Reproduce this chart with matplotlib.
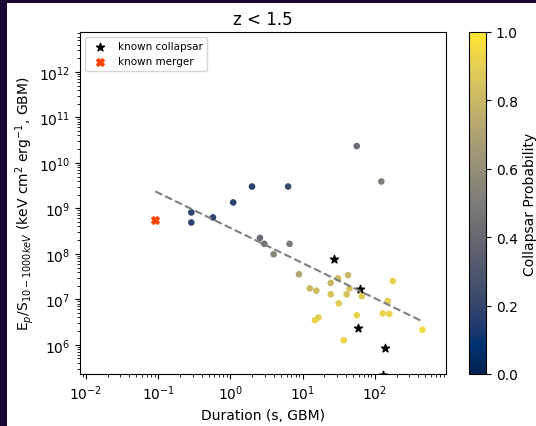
import matplotlib
matplotlib.use('Agg')
import matplotlib.pyplot as plt
from matplotlib.patches import Rectangle
import numpy as np

# GRBs with z < 1.5 (log10 values)
log_dur = [-0.54, -0.54, -0.24, 0.04, 0.30, 0.41, 0.47, 0.60, 0.80, 0.82,
           1.75, 2.09, 0.95, 1.10, 1.19, 1.39, 1.49, 1.63, 1.65, 1.39,
           1.61, 1.50, 1.82, 2.25, 2.18, 2.11, 2.20, 1.75, 1.17, 1.22,
           1.57, 2.66]
log_ratio = [8.91, 8.69, 8.80, 9.13, 9.48, 8.35, 8.22, 7.99, 9.48, 8.22,
             10.37, 9.59, 7.55, 7.24, 7.19, 7.36, 7.46, 7.53, 7.24, 7.11,
             7.11, 6.91, 7.07, 7.40, 6.96, 6.69, 6.68, 6.65, 6.54, 6.60,
             6.10, 6.33]
prob = [0.18, 0.18, 0.18, 0.18, 0.17, 0.42, 0.45, 0.55, 0.22, 0.5,
        0.42, 0.52, 0.7, 0.8, 0.82, 0.8, 0.82, 0.8, 0.85, 0.85,
        0.85, 0.88, 0.88, 0.92, 0.9, 0.92, 0.92, 0.92, 0.92, 0.9,
        0.93, 0.95]

collapsar_log_dur = [1.44, 1.79, 1.77, 2.14, 2.12]
collapsar_log_ratio = [7.89, 7.22, 6.38, 5.92, 5.34]

merger_log_dur = [-1.04]
merger_log_ratio = [8.74]

# power-law fit (log-log)
fit_slope = -0.773
fit_intercept = 8.57

dur = 10 ** np.array(log_dur)
ratio = 10 ** np.array(log_ratio)

fig = plt.figure(figsize=(5.36, 4.27), dpi=100)
fig.patch.set_facecolor('#1a0836')
fig.patches.append(Rectangle((7 / 536, 0), 1, 1 - 4 / 427, transform=fig.transFigure,
                             facecolor='white', edgecolor='none', zorder=-1))

ax = fig.add_axes([0.149, 0.122, 0.683, 0.801])
cax = fig.add_axes([0.875, 0.122, 0.032, 0.801])

sc = ax.scatter(dur, ratio, c=prob, cmap='cividis', vmin=0, vmax=1, s=14)
ax.scatter(10 ** np.array(collapsar_log_dur), 10 ** np.array(collapsar_log_ratio),
           marker='*', color='black', s=36, label='known collapsar')
ax.scatter(10 ** np.array(merger_log_dur), 10 ** np.array(merger_log_ratio),
           marker='X', color='orangered', s=30, label='known merger')

all_x = np.concatenate([log_dur, collapsar_log_dur, merger_log_dur])
xx = np.logspace(all_x.min(), all_x.max(), 50)
ax.plot(xx, 10 ** fit_intercept * xx ** fit_slope, '--', color='gray')

ax.set_xscale('log')
ax.set_yscale('log')
ax.set_xlim(10 ** -2.083, 10 ** 2.985)
ax.set_ylim(10 ** 5.36, 10 ** 12.88)
ax.set_xlabel('Duration (s, GBM)')
ax.set_ylabel('E$_p$/S$_{10-1000keV}$ (keV cm$^2$ erg$^{-1}$, GBM)', labelpad=2)
ax.set_title('z < 1.5')
ax.legend(loc='upper left', fontsize=7.5)

cb = fig.colorbar(sc, cax=cax)
cb.set_label('Collapsar Probability')

fig.savefig('out.png', facecolor=fig.get_facecolor())
